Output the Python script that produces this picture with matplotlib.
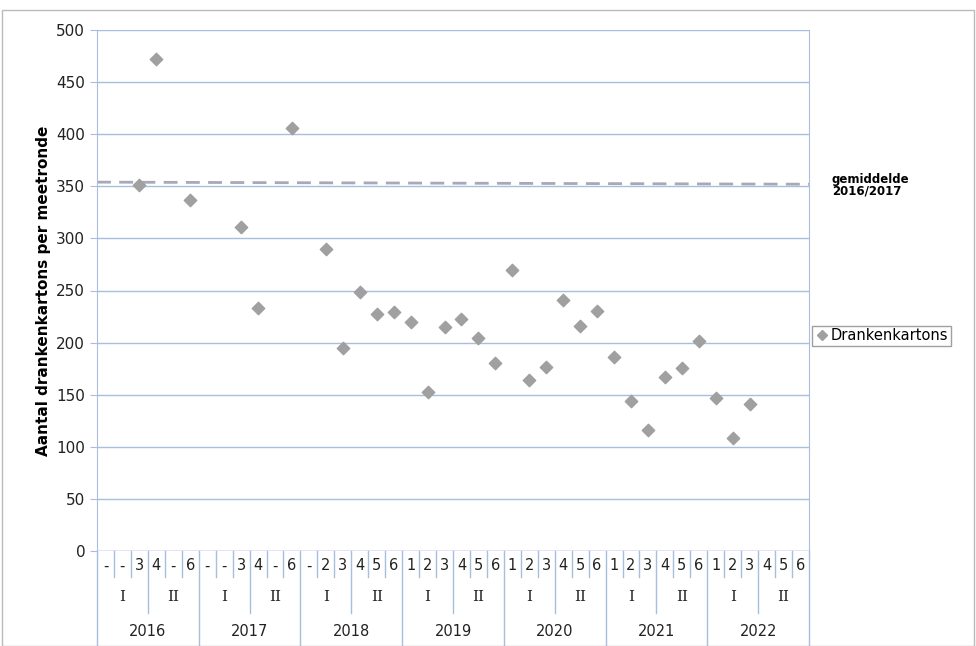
import matplotlib
matplotlib.use("Agg")
import matplotlib.pyplot as plt
from matplotlib.lines import Line2D
import numpy as np

years = ["2016", "2017", "2018", "2019", "2020", "2021", "2022"]
halves = ["I", "II"]
rounds = [["-", "-", "3", "4", "-", "6"],
          ["-", "-", "3", "4", "-", "6"],
          ["-", "2", "3", "4", "5", "6"],
          ["1", "2", "3", "4", "5", "6"],
          ["1", "2", "3", "4", "5", "6"],
          ["1", "2", "3", "4", "5", "6"],
          ["1", "2", "3", "4", "5", "6"]]
values = [None, None, 351, 472, None, 337,
          None, None, 311, 233, None, 406,
          None, 290, 195, 249, 227, 229,
          220, 153, 215, 223, 204, 180,
          270, 164, 177, 241, 216, 230,
          186, 144, 116, 167, 176, 202,
          147, 108, 141, None, None, None]
mean_value = 353

n = len(values)
fig = plt.figure(figsize=(9.76, 6.46), dpi=100)
fig.patches.append(plt.Rectangle((0.002, 0.0), 0.996, 0.985, transform=fig.transFigure,
                                 fill=False, edgecolor="#BBBBBB", lw=1))
ax = fig.add_axes([97/976, 95/646, 712/976, 521/646])
gridc = "#A8BEDC"
ax.set_xlim(0, n)
ax.set_ylim(0, 500)
ax.set_yticks(range(0, 501, 50))
ax.yaxis.grid(True, color=gridc, lw=1)
ax.set_axisbelow(True)
for s in ["top", "bottom"]:
    ax.spines[s].set_visible(False)
ax.spines["left"].set_color(gridc)
ax.spines["right"].set_color(gridc)
ax.tick_params(axis="y", length=5, color=gridc, labelsize=11, labelcolor="#222222")
ax.set_xticks([])
ax.axhline(0, color=gridc, lw=1)

xs = [i + 0.5 for i, v in enumerate(values) if v is not None]
ys = [v for v in values if v is not None]
ax.scatter(xs, ys, marker="D", s=40, color="#A0A0A0", zorder=3)
ax.plot([0, n], [mean_value + 1, mean_value - 1], ls=(0, (5, 3)), color="#A8A8B8", lw=2)

ax.set_ylabel("Aantal drankenkartons per meetronde", fontsize=11, fontweight="bold")

tr = ax.get_xaxis_transform()
px = 1 / 521
for i in range(n + 1):
    if i % 6 == 0:
        depth = 95
    elif i % 3 == 0:
        depth = 62
    else:
        depth = 26
    ax.plot([i, i], [0, -depth * px], transform=tr, color=gridc, lw=1, clip_on=False)
for y in range(len(years)):
    for j in range(6):
        ax.text(y * 6 + j + 0.5, -15 * px, rounds[y][j], transform=tr, ha="center",
                va="center", fontsize=10.5, color="#222222")
    for h in range(2):
        ax.text(y * 6 + h * 3 + 1.5, -46 * px, halves[h], transform=tr, ha="center",
                va="center", fontsize=11, family="DejaVu Serif", color="#222222")
    ax.text(y * 6 + 3, -80 * px, years[y], transform=tr, ha="center", va="center",
            fontsize=10.5, color="#222222")

fig.text(832/976, 1 - 198/646, "gemiddelde\n2016/2017", fontsize=8.5, fontweight="bold",
         va="bottom", ha="left", linespacing=0.95)
h = Line2D([], [], marker="D", ls="none", color="#A0A0A0", markersize=5)
fig.legend([h], ["Drankenkartons"], loc="center left", bbox_to_anchor=(812/976, 1 - 336/646),
           frameon=True, fancybox=False, edgecolor="#888888", fontsize=10.5,
           handletextpad=0.1, borderpad=0.2, handlelength=1.0, borderaxespad=0)
fig.savefig("out.png", dpi=100)
